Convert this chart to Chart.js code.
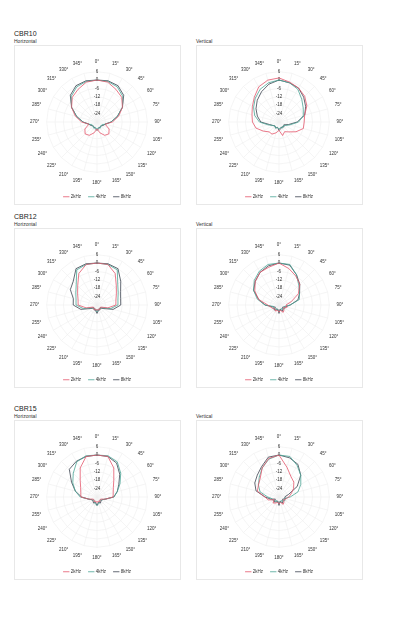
<!DOCTYPE html>
<html>
<head>
<meta charset="utf-8">
<script src="https://cdn.jsdelivr.net/npm/chart.js@4"></script>
<style>
  body { margin: 0; background: #fff; font-family: "Liberation Sans", Arial, sans-serif; }
  .wrap { position: relative; width: 420px; height: 640px; }
  .title { position: absolute; font-size: 7px; color: #222; }
  .sub { position: absolute; font-size: 5px; color: #333; }
  .box { position: absolute; width: 167px; height: 160px; border: 1px solid #e8e8e8; box-sizing: border-box; }
</style>
</head>
<body>
<div class="wrap" id="wrap"></div>
<script>
// angles 0..345 step 15
const angles = [];
for (let a = 0; a < 360; a += 15) angles.push(a + '°');
const seriesNames = ['2kHz', '4kHz', '8kHz'];
const seriesColors = ['#e4576c', '#4aa595', '#3c4450'];
const tickValues = [6, 0, -6, -12, -18, -24];

const cbr10H2k = [0,-0.5,-3,-5,-9,-14,-19,-24,-20,-18,-19,-22,-25,-22,-19,-18,-20,-24,-19,-14,-9,-5,-3,-0.5];
const cbr10H4k = [0,0,-1,-4,-9,-15,-20,-24,-26,-26,-25,-26,-25,-26,-25,-26,-26,-24,-20,-15,-9,-4,-1,0];
const cbr10H8k = [0,0.5,0,-3,-9,-15,-20,-24,-25,-26,-26,-25,-24,-25,-26,-26,-25,-24,-20,-15,-9,-3,0,0.5];

const cbr10V2k = [1.5,-0.5,-2,-4,-7,-11,-12,-12,-16,-20,-22,-20,-24,-22,-20,-20,-17,-13,-11,-10,-8,-5,-1,1];
const cbr10V4k = [0,-1,-3,-7,-10,-12,-16,-22,-25,-26,-25,-26,-25,-26,-25,-26,-25,-22,-16,-12,-9,-6,-3,-1];
const cbr10V8k = [0,-1,-2,-5,-8,-11,-17,-23,-26,-25,-26,-25,-24,-26,-25,-26,-25,-23,-17,-14,-11,-8,-5,-2];

const cbr12H2k = [0,0,-4,-10.5,-14,-16,-16.5,-22,-27,-27,-26,-27,-26,-27,-26,-27,-27,-22,-16.5,-16,-14,-10.5,-4,0];
const cbr12H4k = [0,0,-1,-9,-12.5,-14.5,-15,-20,-26,-27,-26,-27,-25,-27,-26,-27,-26,-20,-15,-14.5,-12.5,-9,-1,0];
const cbr12H8k = [0,0.5,0,-6,-10.5,-12.5,-13,-18,-25,-27,-26,-26,-24,-26,-26,-27,-25,-18,-13,-12.5,-8,-6,0,0.5];

const cbr12V2k = [0,-3,-6,-9,-14,-21,-25,-24,-26,-25,-24,-26,-25,-26,-25,-26,-25,-24,-22,-15,-10,-6,-3,-2];
const cbr12V4k = [0,0,-5,-10,-13,-15,-22,-26,-25,-26,-27,-26,-25,-26,-27,-26,-25,-26,-20,-14,-9,-5,-2,0];
const cbr12V8k = [0,-0.5,-5,-9,-13,-16,-22,-25,-27,-26,-25,-27,-24,-27,-26,-25,-27,-25,-20,-15,-9,-6,-3,-1];

const cbr15H2k = [0,0,-6,-13,-16.5,-18,-18.5,-24,-27,-27,-26,-27,-26,-27,-26,-27,-27,-24,-18.5,-18,-16.5,-13,-6,0];
const cbr15H4k = [0,0.5,-1,-6,-11,-15,-18,-24,-26,-27,-26,-25,-24,-25,-26,-27,-26,-24,-18,-14,-10,-6,-1,0.5];
const cbr15H8k = [0,0,-2,-7,-12,-15,-18,-24,-26,-26,-25,-26,-24,-26,-25,-26,-26,-24,-19,-14,-9,-2,-0.5,0];

const cbr15V2k = [0,-8,-13,-15,-18,-21,-23,-25,-26,-25,-24,-26,-25,-26,-25,-24,-26,-22,-20,-14,-13,-11,-6,-1.5];
const cbr15V4k = [0,0,-4,-8,-12,-16,-22,-26,-25,-26,-27,-26,-25,-26,-27,-26,-25,-25,-22,-16,-13,-10,-6,-2];
const cbr15V8k = [0,-1,-3,-8,-15,-23,-26,-25,-27,-26,-25,-27,-24,-27,-26,-25,-27,-24,-20,-13,-10,-8,-5,-0.5];

const panels = [
    { title: 'CBR10', sub: 'Horizontal', x: 14, y: 45, data: [cbr10H2k, cbr10H4k, cbr10H8k] },
    { title: null, sub: 'Vertical', x: 196, y: 45, data: [cbr10V2k, cbr10V4k, cbr10V8k] },
    { title: 'CBR12', sub: 'Horizontal', x: 14, y: 228, data: [cbr12H2k, cbr12H4k, cbr12H8k] },
    { title: null, sub: 'Vertical', x: 196, y: 228, data: [cbr12V2k, cbr12V4k, cbr12V8k] },
    { title: 'CBR15', sub: 'Horizontal', x: 14, y: 420, data: [cbr15H2k, cbr15H4k, cbr15H8k] },
    { title: null, sub: 'Vertical', x: 196, y: 420, data: [cbr15V2k, cbr15V4k, cbr15V8k] }
];

const wrap = document.getElementById('wrap');

panels.forEach(p => {
    if (p.title) {
        const t = document.createElement('div');
        t.className = 'title';
        t.style.left = p.x + 'px';
        t.style.top = (p.y - 15) + 'px';
        t.textContent = p.title;
        wrap.appendChild(t);
    }
    const s = document.createElement('div');
    s.className = 'sub';
    s.style.left = p.x + 'px';
    s.style.top = (p.y - 7) + 'px';
    s.textContent = p.sub;
    wrap.appendChild(s);

    const box = document.createElement('div');
    box.className = 'box';
    box.style.left = p.x + 'px';
    box.style.top = p.y + 'px';
    const canvas = document.createElement('canvas');
    box.appendChild(canvas);
    wrap.appendChild(box);

    new Chart(canvas.getContext('2d'), {
        type: 'radar',
        data: {
            labels: angles,
            datasets: p.data.map((d, i) => ({
                label: seriesNames[i],
                data: d,
                borderColor: seriesColors[i],
                backgroundColor: 'transparent',
                borderWidth: 0.8,
                pointRadius: 0,
                fill: false
            }))
        },
        options: {
            responsive: true,
            maintainAspectRatio: false,
            animation: false,
            layout: { padding: { top: 13, bottom: -5 } },
            scales: {
                r: {
                    min: -30,
                    max: 6,
                    ticks: {
                        stepSize: 6,
                        showLabelBackdrop: false,
                        color: '#333',
                        font: { size: 4.5 },
                        callback: v => tickValues.includes(v) ? v : ''
                    },
                    grid: { color: '#eeeeee', lineWidth: 0.6 },
                    angleLines: { color: '#eeeeee', lineWidth: 0.6 },
                    pointLabels: { color: '#333', font: { size: 4.5 }, padding: 3 }
                }
            },
            plugins: {
                legend: {
                    position: 'bottom',
                    labels: {
                        usePointStyle: true,
                        pointStyle: 'line',
                        boxWidth: 12,
                        color: '#333',
                        font: { size: 4.5 },
                        padding: 8
                    }
                },
                tooltip: { enabled: false }
            }
        }
    });
});
</script>
</body>
</html>
